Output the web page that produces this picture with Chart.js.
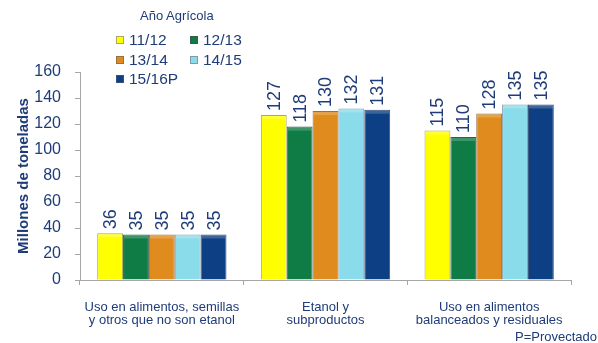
<!DOCTYPE html>
<html>
<head>
<meta charset="utf-8">
<script src="https://cdn.jsdelivr.net/npm/chart.js@4.4.1/dist/chart.umd.min.js"></script>
<style>
  html, body { margin: 0; padding: 0; background: #fff; }
  #wrap { position: relative; width: 598px; height: 343px; }
  #legend { position: absolute; left: 116px; top: 8px; font-family: "Liberation Sans", Arial, sans-serif; color: #1F3C78; }
  #legend .ttl { font-size: 13px; margin-left: 24px; height: 23px; }
  #legend .grid { display: grid; grid-template-columns: 74px 70px; row-gap: 1.5px; }
  #legend .it { display: flex; align-items: center; font-size: 15.5px; height: 18px; }
  #legend .box { width: 8px; height: 8px; margin-right: 5px; box-sizing: border-box; }
</style>
</head>
<body>
<div id="wrap">
  <canvas id="chart" width="598" height="343"></canvas>
  <div id="legend"><div class="ttl">Año Agrícola</div><div class="grid" id="items"></div></div>
</div>
<script>
// datos
const categories = [
  ["Uso en alimentos, semillas", "y otros que no son etanol"],
  ["Etanol y", "subproductos"],
  ["Uso en alimentos", "balanceados y residuales"]
];
const seriesNames = ["11/12", "12/13", "13/14", "14/15", "15/16P"];
const s1112 = [36, 127, 115];
const s1213 = [35, 118, 110];
const s1314 = [35, 130, 128];
const s1415 = [35, 132, 135];
const s1516 = [35, 131, 135];
const yTicks = [0, 20, 40, 60, 80, 100, 120, 140, 160];

const colors = ["#FFFF00", "#0F7B45", "#E08B1E", "#8ADCEB", "#0C3F84"];
const borders = ["#A8A860", "#2F5F48", "#9A7040", "#7A9EA8", "#3A5078"];
const navy = "#1F3C78";
const font = "'Liberation Sans', Arial, sans-serif";

const allSeries = [s1112, s1213, s1314, s1415, s1516];

// etiquetas de valor giradas + brillo superior de barras
const valueLabels = {
  id: "valueLabels",
  afterDatasetsDraw(chart) {
    const ctx = chart.ctx;
    ctx.save();
    chart.data.datasets.forEach((ds, i) => {
      chart.getDatasetMeta(i).data.forEach(bar => {
        ctx.fillStyle = "rgba(255,255,255,0.2)";
        ctx.fillRect(bar.x - bar.width / 2 + 1, bar.y + 1, bar.width - 2, 3);
      });
    });
    ctx.fillStyle = navy;
    ctx.font = "18px " + font;
    ctx.textAlign = "left";
    ctx.textBaseline = "middle";
    chart.data.datasets.forEach((ds, i) => {
      chart.getDatasetMeta(i).data.forEach((bar, j) => {
        ctx.save();
        ctx.translate(bar.x, bar.y - 4);
        ctx.rotate(-Math.PI / 2);
        ctx.fillText(String(ds.data[j]), 0, 1);
        ctx.restore();
      });
    });
    ctx.font = "13px " + font;
    ctx.textAlign = "right";
    ctx.fillText("P=Provectado", chart.width - 1, chart.height - 6);
    ctx.restore();
  }
};

const chart = new Chart(document.getElementById("chart").getContext("2d"), {
  type: "bar",
  data: {
    labels: categories,
    datasets: allSeries.map((d, i) => ({
      label: seriesNames[i],
      data: d,
      backgroundColor: colors[i],
      borderColor: borders[i],
      borderWidth: 1,
      categoryPercentage: 0.79,
      barPercentage: 1
    }))
  },
  options: {
    responsive: false,
    animation: false,
    layout: { padding: { top: 72, right: 27, left: 0, bottom: 0 } },
    plugins: { legend: { display: false }, tooltip: { enabled: false } },
    scales: {
      x: {
        grid: { drawOnChartArea: false, drawTicks: true, tickLength: 5, color: "#A6A6A6" },
        border: { color: "#A6A6A6" },
        ticks: { color: navy, font: { family: font, size: 13, lineHeight: 1.0 }, padding: 16, maxRotation: 0 },
        afterFit(s) { s.height = 63; }
      },
      y: {
        min: 0, max: 160,
        afterBuildTicks(s) { s.ticks = yTicks.map(v => ({ value: v })); },
        grid: { drawOnChartArea: false, drawTicks: true, tickLength: 5, color: "#A6A6A6" },
        border: { color: "#A6A6A6" },
        ticks: { color: navy, font: { family: font, size: 16 }, padding: 14 },
        title: { display: true, text: "Millones de toneladas", color: navy, font: { family: font, size: 15, weight: "bold" }, padding: { top: 15, bottom: 0 } },
        afterFit(s) { s.width = 80; }
      }
    }
  },
  plugins: [valueLabels]
});

// leyenda
const items = document.getElementById("items");
seriesNames.forEach((n, i) => {
  const el = document.createElement("div");
  el.className = "it";
  el.innerHTML = '<span class="box" style="background:' + colors[i] + ';border:1px solid ' + borders[i] + '"></span>' + n;
  items.appendChild(el);
});
</script>
</body>
</html>
